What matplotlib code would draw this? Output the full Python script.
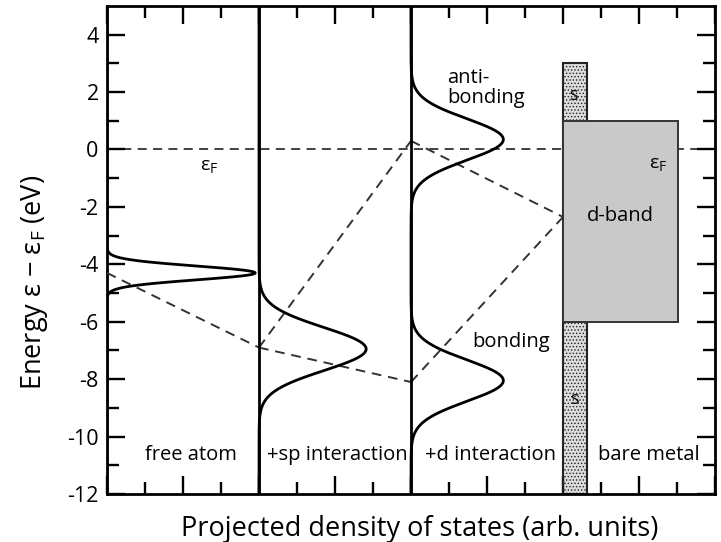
import numpy as np
import matplotlib
matplotlib.use("Agg")
import matplotlib.pyplot as plt
from matplotlib.patches import Rectangle

plt.rcParams['font.family'] = ['Open Sans', 'DejaVu Sans']
plt.rcParams['mathtext.fontset'] = 'custom'
plt.rcParams['mathtext.rm'] = 'Open Sans'
plt.rcParams['axes.unicode_minus'] = False
plt.rcParams['hatch.linewidth'] = 0.6

# Panel boundaries (x in arbitrary DOS units)
panel_edges = [4, 8, 12]
panel_labels = ["free atom", "+sp interaction", "+d interaction", "bare metal"]
panel_label_x = [2.2, 6.05, 10.1, 14.25]

# Gaussian peaks for each panel: (baseline x, centre energy, height, width)
atom_peak = (0.0, -4.3, 3.9, 0.24)
sp_peak = (4.0, -6.95, 2.82, 0.75)
d_peaks = [(8.0, 0.35, 2.43, 0.72), (8.0, -8.05, 2.43, 0.72)]

# Level-correlation dashed lines (x, energy)
corr_lines = [
    ([0.0, 4.0], [-4.3, -6.9]),
    ([4.0, 8.0], [-6.9, 0.3]),
    ([4.0, 8.0], [-6.9, -8.1]),
    ([8.0, 12.0], [0.3, -2.35]),
    ([8.0, 12.0], [-8.1, -2.35]),
]

# Bare metal bands: (x0, x1, e_bottom, e_top)
s_band = (12.0, 12.62, -12.0, 3.0)
d_band = (12.0, 15.03, -6.0, 1.0)

fig = plt.figure(figsize=(7.21, 5.42), dpi=100)
ax = fig.add_axes([0.1484, 0.0886, 0.8433, 0.9004])

e = np.linspace(-12, 5, 2000)


def draw_peak(base, centre, height, width):
    return base + height * np.exp(-0.5 * ((e - centre) / width) ** 2)


ax.plot(draw_peak(*atom_peak), e, color='black', lw=2.0, zorder=4)
ax.plot(draw_peak(*sp_peak), e, color='black', lw=2.0, zorder=4)
dcurve = d_peaks[0][0] + sum(h * np.exp(-0.5 * ((e - c) / w) ** 2)
                              for _, c, h, w in d_peaks)
ax.plot(dcurve, e, color='black', lw=2.0, zorder=4)

# Fermi level
ax.axhline(0, color='#333333', lw=1.3, ls=(0, (5, 3.5)), zorder=1)

for xs, ys in corr_lines:
    ax.plot(xs, ys, color='#333333', lw=1.4, ls=(0, (5, 3.5)), zorder=3)

# Bands of the bare metal: s band behind, d band on top of it
x0, x1, b0, b1 = s_band
ax.add_patch(Rectangle((x0, b0), x1 - x0, b1 - b0, facecolor='#dcdcdc',
                       edgecolor='#222222', lw=1.3, hatch='.....', zorder=1.5))
ax.add_patch(Rectangle((x0, b0), x1 - x0, b1 - b0, facecolor='none',
                       edgecolor='#222222', lw=1.5, zorder=1.6))
x0, x1, b0, b1 = d_band
ax.add_patch(Rectangle((x0, b0), x1 - x0, b1 - b0, facecolor='#c9c9c9',
                       edgecolor='#333333', lw=1.4, zorder=2))

ax.set_xlim(0, 16)
ax.set_ylim(-12, 5)
ax.set_xticks(np.arange(0, 17, 2))
ax.set_xticks(np.arange(1, 16, 2), minor=True)
ax.set_yticks(np.arange(-12, 5, 2))
ax.set_yticks(np.arange(-11, 5, 2), minor=True)
ax.tick_params(which='both', direction='in', top=True, right=True,
               width=1.7, labelsize=15.5, pad=6)
ax.tick_params(which='major', length=13)
ax.tick_params(which='minor', length=8.5)
ax.tick_params(axis='x', labelbottom=False)
for sp in ax.spines.values():
    sp.set_linewidth(2.0)

for xe in panel_edges[:2]:
    ax.axvline(xe, color='black', lw=2.0, zorder=4)

for lab, xl in zip(panel_labels, panel_label_x):
    ax.text(xl, -10.65, lab, ha='center', va='center', fontsize=14.5, zorder=7)

ax.text(8.95, 2.15, "anti-\nbonding", ha='left', va='center', fontsize=14.5,
        linespacing=1.0)
ax.text(9.6, -6.7, "bonding", ha='left', va='center', fontsize=14.5)
ax.text(13.5, -2.3, "d-band", ha='center', va='center', fontsize=14.5, zorder=7)
ax.text(12.28, 1.9, "s", ha='center', va='center', fontsize=13, zorder=7)
ax.text(12.3, -8.7, "s", ha='center', va='center', fontsize=13, zorder=7)
ax.text(2.7, -0.6, r"ε$_{\mathrm{F}}$", ha='center', va='center', fontsize=14)
ax.text(14.5, -0.55, r"ε$_{\mathrm{F}}$", ha='center', va='center', fontsize=14,
        zorder=7)

ax.set_ylabel(r"Energy ε − ε$_{\mathrm{F}}$ (eV)", fontsize=19.5)
ax.yaxis.set_label_coords(-0.093, 0.434)
ax.set_xlabel("Projected density of states (arb. units)", fontsize=19.5)
ax.xaxis.set_label_coords(0.515, -0.044, transform=ax.transAxes)
ax.xaxis.label.set_va('top')

fig.savefig("out.png", dpi=100)
